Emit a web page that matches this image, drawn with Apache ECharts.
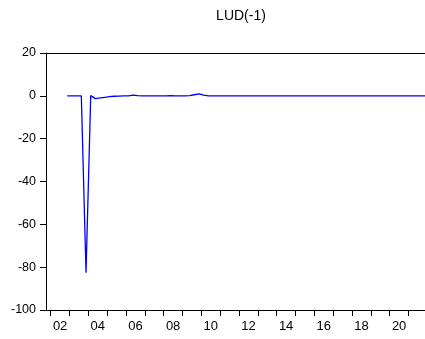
<!DOCTYPE html>
<html>
<head>
<meta charset="utf-8">
<script src="https://cdn.jsdelivr.net/npm/echarts@6/dist/echarts.min.js"></script>
<style>
  html, body { margin: 0; padding: 0; background: #fff; }
  #chart { width: 425px; height: 339px; }
</style>
</head>
<body>
<div id="chart"></div>
<script>
// Quarterly series LUD(-1), first observation 2002Q4
const firstYear = 2002;
const firstQuarter = 4;
const ludLag = [
  0,                       // 2002Q4
  0, 0, 0, -82.6,          // 2003
  0.1, -1.3, -1.0, -0.7,   // 2004
  -0.4, -0.2, -0.1, 0,     // 2005
  0, 0.3, 0.1, 0,          // 2006
  0, 0, 0, 0,              // 2007
  0, 0.1, 0, 0,            // 2008
  0, 0.1, 0.5, 0.9,        // 2009
  0.3, 0, 0, 0,            // 2010
  0, 0, 0, 0,              // 2011
  0, 0, 0, 0,              // 2012
  0, 0, 0, 0,              // 2013
  0, 0, 0, 0,              // 2014
  0, 0, 0, 0,              // 2015
  0, 0, 0, 0,              // 2016
  0, 0, 0, 0,              // 2017
  0, 0, 0, 0,              // 2018
  0, 0, 0, 0,              // 2019
  0, 0, 0, 0,              // 2020
  0, 0, 0, 0               // 2021
];
const yearTicks = [2002, 2003, 2004, 2005, 2006, 2007, 2008, 2009, 2010, 2011,
                   2012, 2013, 2014, 2015, 2016, 2017, 2018, 2019, 2020, 2021];
const yearLabels = ['02', '04', '06', '08', '10', '12', '14', '16', '18', '20'];
const labelYears = [2002, 2004, 2006, 2008, 2010, 2012, 2014, 2016, 2018, 2020];

// place each quarter at the middle of its slot on a continuous year scale
const points = ludLag.map((v, i) => {
  const q = firstQuarter - 1 + i;
  const year = firstYear + Math.floor(q / 4);
  const quarter = (q % 4) + 1;
  return [year + (quarter - 0.5) / 4, v];
});

const font = 'Liberation Sans, Arial, sans-serif';
const chart = echarts.init(document.getElementById('chart'), null, { renderer: 'canvas' });
chart.setOption({
  animation: false,
  backgroundColor: '#ffffff',
  title: {
    text: 'LUD(-1)',
    left: 236,
    top: 4,
    textAlign: 'center',
    textStyle: { fontFamily: font, fontSize: 14, fontWeight: 'normal', color: '#000' }
  },
  grid: { left: 46, right: 0, top: 53, bottom: 29, containLabel: false },
  xAxis: [{
    type: 'value',
    min: 2001.75,
    max: 2021.875,
    position: 'bottom',
    axisLine: { show: true, onZero: false, lineStyle: { color: '#000', width: 1 } },
    axisTick: { show: true, length: 6, lineStyle: { color: '#000' }, customValues: yearTicks },
    axisLabel: {
      fontFamily: font, fontSize: 13, color: '#000', margin: 10,
      customValues: labelYears.map(y => y + 0.5),
      formatter: v => yearLabels[labelYears.indexOf(Math.round(v - 0.5))]
    },
    splitLine: { show: false }
  }, {
    type: 'value',
    min: 2001.75,
    max: 2021.875,
    position: 'top',
    axisLine: { show: true, onZero: false, lineStyle: { color: '#000', width: 1 } },
    axisTick: { show: false },
    axisLabel: { show: false },
    splitLine: { show: false }
  }],
  yAxis: {
    type: 'value',
    min: -100,
    max: 20,
    interval: 20,
    axisLine: { show: true, onZero: false, lineStyle: { color: '#000', width: 1 } },
    axisTick: { show: true, length: 6, lineStyle: { color: '#000' } },
    axisLabel: { fontFamily: font, fontSize: 12.5, color: '#000', margin: 10 },
    splitLine: { show: false }
  },
  series: [{
    type: 'line',
    data: points,
    showSymbol: false,
    lineStyle: { color: '#0000ff', width: 1.3 },
    itemStyle: { color: '#0000ff' }
  }]
});
</script>
</body>
</html>
